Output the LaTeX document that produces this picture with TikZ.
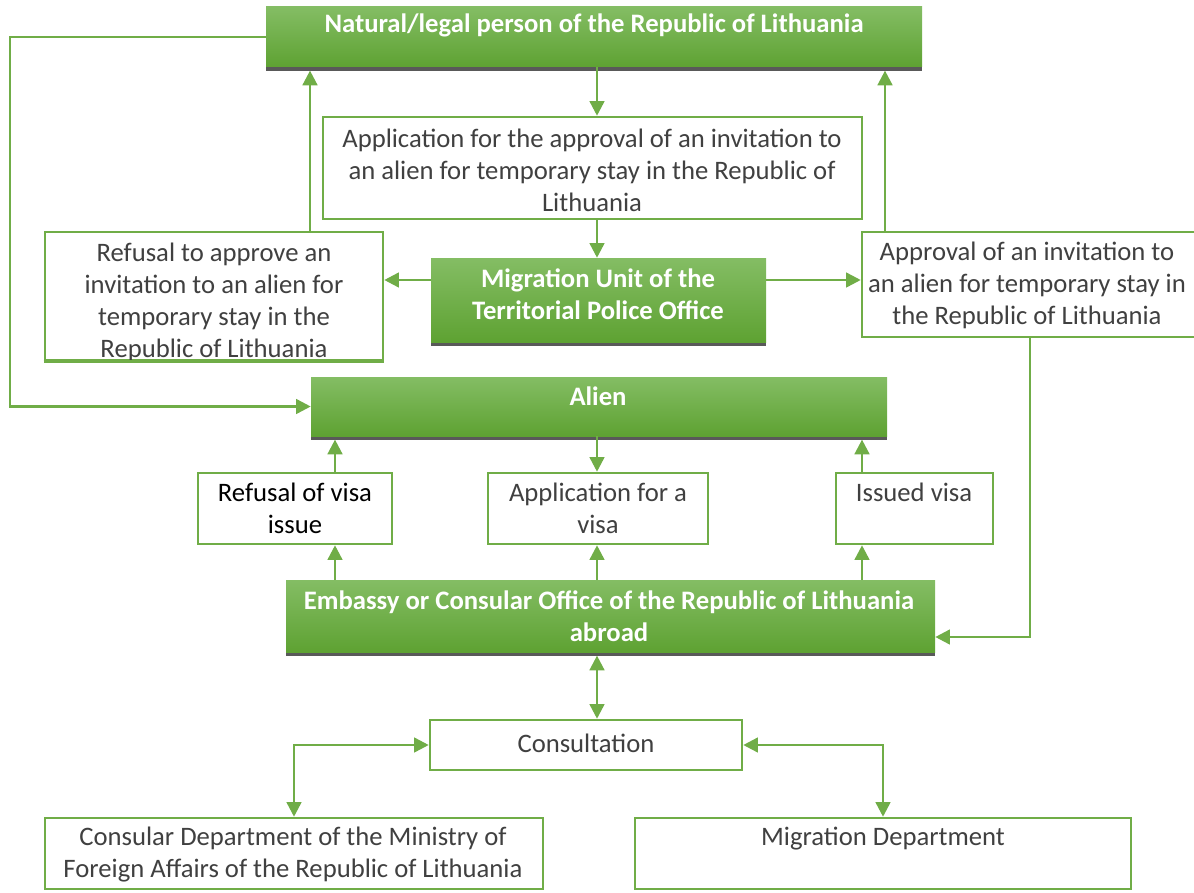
\documentclass[tikz,border=0pt]{standalone}
\usepackage{fontspec}
\setmainfont{Carlito}
\usetikzlibrary{arrows.meta,fit,shadows}
\definecolor{lgreen}{HTML}{70AD47}
\definecolor{gtop}{HTML}{84BD64}
\definecolor{gbot}{HTML}{5EA232}
\definecolor{shgray}{HTML}{595959}
\definecolor{tgray}{HTML}{404040}
\begin{document}
\begin{tikzpicture}[x=0.75pt,y=-0.75pt,
  wbox/.style={draw=lgreen,line width=1.9pt,fill=white,inner sep=0pt,rectangle},
  gbox/.style={rectangle,inner sep=0pt,top color=gtop,bottom color=gbot,
     general shadow={fill=shgray,shadow yshift=-3pt}},
  wtext/.style={font=\fontsize{20}{24}\selectfont,text=tgray,align=center,inner sep=0pt},
  btext/.style={font=\fontsize{20}{24}\selectfont,text=black,align=center,inner sep=0pt},
  gtext/.style={font=\fontsize{20}{24}\selectfont\bfseries,text=white,align=center,inner sep=0pt},
  conn/.style={draw=lgreen,line width=1.9pt},
  arr/.style={conn,-{Triangle[length=11pt,width=11pt]}},
  darr/.style={conn,{Triangle[length=11pt,width=11pt]}-{Triangle[length=11pt,width=11pt]}}]
\useasboundingbox (0,0) rectangle (1194,892);
% column / row helpers
\coordinate (cLeft) at (10,0);
\coordinate (cL) at (310,0);
\coordinate (cM) at (597,0);
\coordinate (cR) at (885,0);
\coordinate (cV1) at (335,0);
\coordinate (cV3) at (862,0);
\coordinate (cC) at (1030,0);
\coordinate (rA) at (0,280);
\coordinate (rE) at (0,637);
% green boxes
\node[gbox,fit={(266,7)(922,67)}] (nat) {};
\node[gtext] (natT) at (594,25) {Natural/legal person of the Republic of Lithuania};
\node[gbox,fit={(431,258)(766,342)}] (mig) {};
\node[gtext] (migT) at (598,294) {Migration Unit of the\\Territorial Police Office};
\node[gbox,fit={(311,377)(887,436)}] (alien) {};
\node[gtext] (alienT) at (598,396) {Alien};
\node[gbox,fit={(286,580)(935,652)}] (emb) {};
\node[gtext] (embT) at (609,616) {Embassy or Consular Office of the Republic of Lithuania\\abroad};
% white boxes
\node[wbox,fit={(323,117)(862,219)}] (app) {};
\node[wtext] (appT) at (592,170) {Application for the approval of an invitation to\\an alien for temporary stay in the Republic of\\Lithuania};
\node[wbox,fit={(45,232)(383,360)}] (ref) {};
\node[wtext] (refT) at (214,302) {Refusal to approve an\\invitation to an alien for\\temporary stay in the\\Republic of Lithuania};
\draw[lgreen,line width=1.9pt] (ref.south west) -- (ref.south east);
\node[wbox,fit={(862,232)(1198,337)}] (appr) {};
\node[wtext] (apprT) at (1027,285) {Approval of an invitation to\\an alien for temporary stay in\\the Republic of Lithuania};
\node[wbox,fit={(198,473)(392,544)}] (rvisa) {};
\node[btext] (rvisaT) at (295,508) {Refusal of visa\\issue};
\node[wbox,fit={(488,473)(708,544)}] (avisa) {};
\node[wtext] (avisaT) at (598,508) {Application for a\\visa};
\node[wbox,fit={(836,473)(993,544)}] (ivisa) {};
\node[wtext] (ivisaT) at (914,492) {Issued visa};
\node[wbox,fit={(430,720)(742,770)}] (cons) {};
\node[wtext] (consT) at (586,743) {Consultation};
\node[wbox,fit={(45,818)(543,889)}] (cdep) {};
\node[wtext] (cdepT) at (293,855) {Consular Department of the Ministry of\\Foreign Affairs of the Republic of Lithuania};
\node[wbox,fit={(635,818)(1131,889)}] (mdep) {};
\node[wtext] (mdepT) at (883,839) {Migration Department};
% connectors
\draw[arr] (nat.west) -- (nat.west -| cLeft) |- (alien.west);
\draw[arr] (nat.south -| cM) -- (app.north -| cM);
\draw[arr] (app.south -| cM) -- (mig.north -| cM);
\draw[arr] (mig.west |- rA) -- (ref.east |- rA);
\draw[arr] (mig.east |- rA) -- (appr.west |- rA);
\draw[arr,shorten >=2.5pt] (ref.north -| cL) -- (nat.south -| cL);
\draw[arr,shorten >=2.5pt] (appr.north -| cR) -- (nat.south -| cR);
\draw[arr] (appr.south -| cC) -- (cC |- rE) -- (emb.east |- rE);
\draw[arr] (alien.south -| cM) -- (avisa.north -| cM);
\draw[arr,shorten >=2.5pt] (rvisa.north -| cV1) -- (alien.south -| cV1);
\draw[arr,shorten >=2.5pt] (ivisa.north -| cV3) -- (alien.south -| cV3);
\draw[arr] (emb.north -| cV1) -- (rvisa.south -| cV1);
\draw[arr] (emb.north -| cM) -- (avisa.south -| cM);
\draw[arr] (emb.north -| cV3) -- (ivisa.south -| cV3);
\draw[darr,shorten <=2.5pt] (emb.south -| cM) -- (cons.north -| cM);
\draw[darr] (cons.west) -| (cdep.north);
\draw[darr] (cons.east) -| (mdep.north);
\end{tikzpicture}
\end{document}
